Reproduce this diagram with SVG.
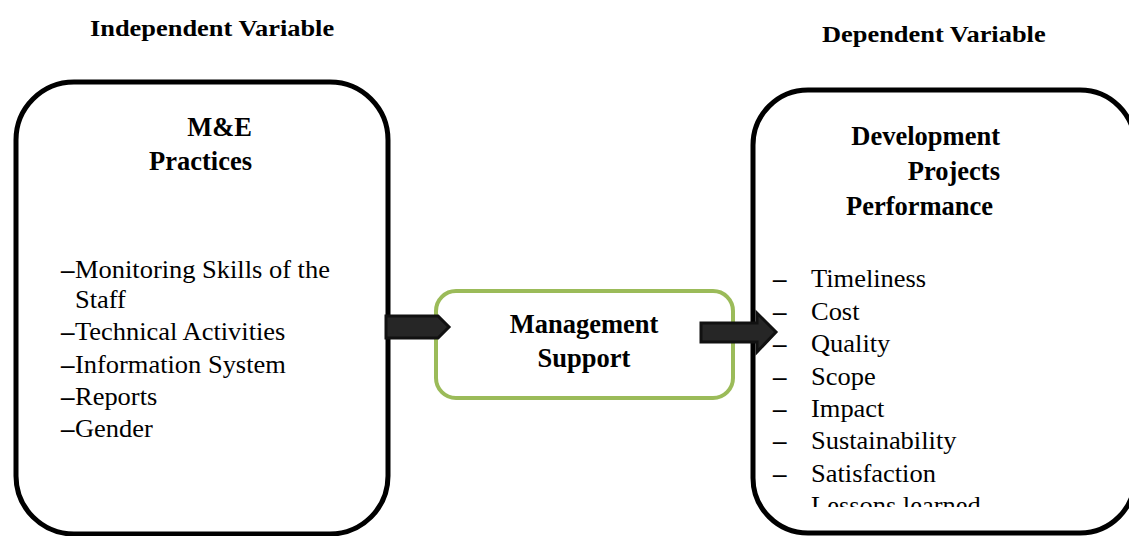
<svg xmlns="http://www.w3.org/2000/svg" width="1129" height="536" viewBox="0 0 1129 536">
<style>
text{font-family:"Liberation Serif","Times New Roman",serif;fill:#000}
.h{font-weight:bold;font-size:24px}
.t{font-weight:bold;font-size:26.5px}
.l{font-size:24.5px}
.d{font-size:24.5px;font-weight:bold}
.box{fill:#fff;stroke:#000;stroke-width:5}
.mid{fill:#fff;stroke:#9BBB59;stroke-width:4}
.arr{fill:#262626;stroke:#111;stroke-width:3;stroke-linejoin:miter}
</style>
<defs>
<clipPath id="rclip"><rect x="755" y="250" width="370" height="257"/></clipPath>
</defs>
<rect width="1129" height="536" fill="#fff"/>
<g id="header-independent">
<text class="h" transform="translate(90,36) scale(1.1,1)">Independent Variable</text>
</g>
<g id="header-dependent">
<text class="h" transform="translate(822,42) scale(1.1,1)">Dependent Variable</text>
</g>
<g id="node-me-practices">
<rect class="box" x="16" y="82" width="372" height="452" rx="58" ry="58"/>
<text class="t" x="252" y="136" text-anchor="end">M&amp;E</text>
<text class="t" x="252" y="170" text-anchor="end">Practices</text>
<text class="d" transform="translate(61,278) scale(1.1,1)">–</text>
<text class="l" transform="translate(75,278) scale(1.08,1)">Monitoring Skills of the</text>
<text class="l" transform="translate(75,308) scale(1.08,1)">Staff</text>
<text class="d" transform="translate(61,340) scale(1.1,1)">–</text>
<text class="l" transform="translate(75,340) scale(1.08,1)">Technical Activities</text>
<text class="d" transform="translate(61,373) scale(1.1,1)">–</text>
<text class="l" transform="translate(75,373) scale(1.08,1)">Information System</text>
<text class="d" transform="translate(61,405) scale(1.1,1)">–</text>
<text class="l" transform="translate(75,405) scale(1.08,1)">Reports</text>
<text class="d" transform="translate(61,437) scale(1.1,1)">–</text>
<text class="l" transform="translate(75,437) scale(1.08,1)">Gender</text>
</g>
<g id="node-management-support">
<rect class="mid" x="436" y="291" width="297" height="107" rx="20" ry="20"/>
<text class="t" x="584" y="333" text-anchor="middle">Management</text>
<text class="t" x="584" y="367" text-anchor="middle">Support</text>
</g>
<g id="node-performance">
<rect class="box" x="753" y="90" width="382" height="443" rx="55" ry="55"/>
<text class="t" x="1000" y="145" text-anchor="end">Development</text>
<text class="t" x="1000" y="180" text-anchor="end">Projects</text>
<text class="t" x="846" y="215">Performance</text>
<g clip-path="url(#rclip)">
<text class="d" transform="translate(773,287) scale(1.1,1)">–</text>
<text class="l" transform="translate(811,287) scale(1.08,1)">Timeliness</text>
<text class="d" transform="translate(773,320) scale(1.1,1)">–</text>
<text class="l" transform="translate(811,320) scale(1.08,1)">Cost</text>
<text class="d" transform="translate(773,352) scale(1.1,1)">–</text>
<text class="l" transform="translate(811,352) scale(1.08,1)">Quality</text>
<text class="d" transform="translate(773,385) scale(1.1,1)">–</text>
<text class="l" transform="translate(811,385) scale(1.08,1)">Scope</text>
<text class="d" transform="translate(773,417) scale(1.1,1)">–</text>
<text class="l" transform="translate(811,417) scale(1.08,1)">Impact</text>
<text class="d" transform="translate(773,449) scale(1.1,1)">–</text>
<text class="l" transform="translate(811,449) scale(1.08,1)">Sustainability</text>
<text class="d" transform="translate(773,482) scale(1.1,1)">–</text>
<text class="l" transform="translate(811,482) scale(1.08,1)">Satisfaction</text>
<text class="d" transform="translate(773,514) scale(1.1,1)">–</text>
<text class="l" transform="translate(811,514) scale(1.08,1)">Lessons learned</text>
</g>
</g>
<g id="connectors">
<polygon class="arr" points="386,316 438,316 449,327 438,338 386,338"/>
<polygon class="arr" points="701,323 757,323 757,313 776,332 757,352 757,342 701,342"/>
</g>
</svg>
